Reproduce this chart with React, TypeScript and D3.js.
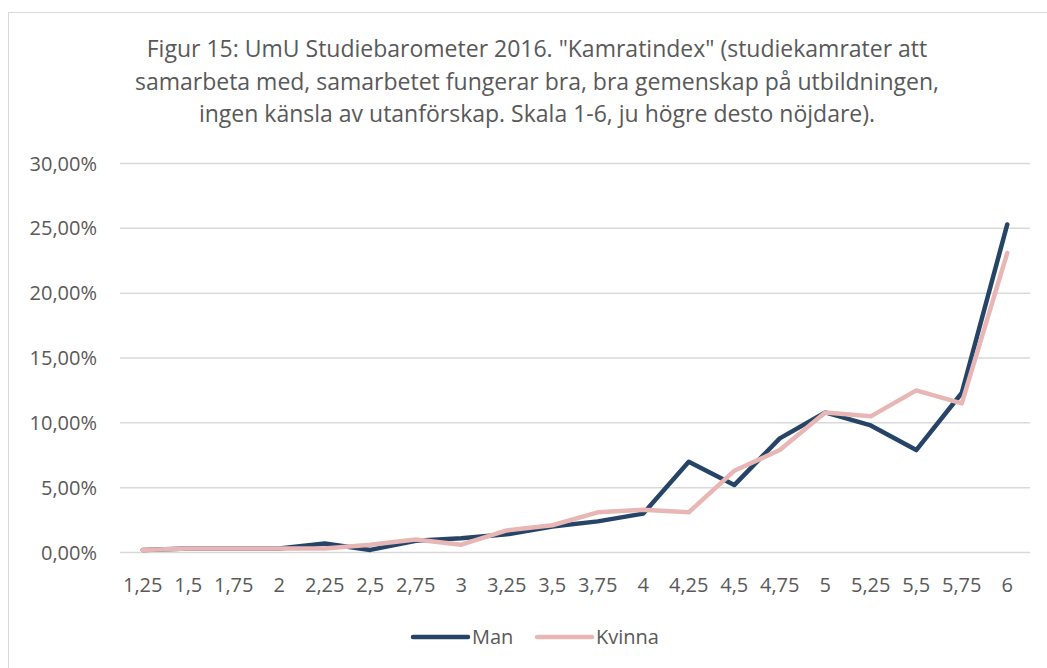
import React from "react";
import * as d3 from "d3";

const categories = ["1,25","1,5","1,75","2","2,25","2,5","2,75","3","3,25","3,5","3,75","4","4,25","4,5","4,75","5","5,25","5,5","5,75","6"];
const manValues = [0.2,0.3,0.3,0.3,0.7,0.2,0.9,1.1,1.4,2.0,2.4,3.0,7.0,5.2,8.8,10.8,9.8,7.9,12.3,25.3];
const kvinnaValues = [0.2,0.3,0.3,0.3,0.3,0.6,1.0,0.6,1.7,2.1,3.1,3.3,3.1,6.3,7.9,10.8,10.5,12.5,11.5,23.1];
const yTicks = [0,5,10,15,20,25,30];
const titleLines = [
  "Figur 15: UmU Studiebarometer 2016. \"Kamratindex\" (studiekamrater att",
  "samarbeta med, samarbetet fungerar bra, bra gemenskap på utbildningen,",
  "ingen känsla av utanförskap. Skala 1-6, ju högre desto nöjdare).",
];
const seriesNames = ["Man","Kvinna"];
const colors = ["#264466","#E8B7B5"];

export default function App() {
  const W = 1047, H = 668;
  const x = d3.scaleBand().domain(categories).range([120, 1030]);
  const y = d3.scaleLinear().domain([0, 30]).range([552.5, 163.5]);
  const line = d3.line<number>()
    .x((_, i) => (x(categories[i]) as number) + x.bandwidth() / 2)
    .y((d) => y(d));
  const font = "'Open Sans', sans-serif";
  const textColor = "#595959";
  const fmt = (v: number) => v.toFixed(2).replace(".", ",") + "%";
  const series = [manValues, kvinnaValues];
  const legendX = [413, 537];
  return (
    <svg width={W} height={H} style={{ position: "absolute", left: 0, top: 0, background: "#fff" }}>
      <rect x={8.5} y={12.5} width={W + 20} height={H + 20} fill="#fff" stroke="#D9D9D9" strokeWidth={1} />
      {titleLines.map((t, i) => (
        <text key={i} x={537} y={57 + i * 32.5} textAnchor="middle" fontFamily={font} fontSize={23} fill={textColor}>{t}</text>
      ))}
      {yTicks.map((t) => (
        <g key={t}>
          <line x1={120} x2={1030} y1={y(t)} y2={y(t)} stroke="#D9D9D9" strokeWidth={1.5} />
          <text x={97} y={y(t) + 7} textAnchor="end" fontFamily={font} fontSize={20} fill={textColor}>{fmt(t)}</text>
        </g>
      ))}
      {categories.map((c) => (
        <text key={c} x={(x(c) as number) + x.bandwidth() / 2} y={592} textAnchor="middle" fontFamily={font} fontSize={20} fill={textColor}>{c}</text>
      ))}
      {series.map((s, i) => (
        <path key={i} d={line(s) || ""} fill="none" stroke={colors[i]} strokeWidth={4.5} strokeLinejoin="round" strokeLinecap="round" />
      ))}
      {seriesNames.map((n, i) => (
        <g key={n}>
          <line x1={legendX[i]} x2={legendX[i] + 55} y1={637} y2={637} stroke={colors[i]} strokeWidth={4.5} strokeLinecap="round" />
          <text x={legendX[i] + 59} y={644} fontFamily={font} fontSize={20} fill={textColor}>{n}</text>
        </g>
      ))}
    </svg>
  );
}
